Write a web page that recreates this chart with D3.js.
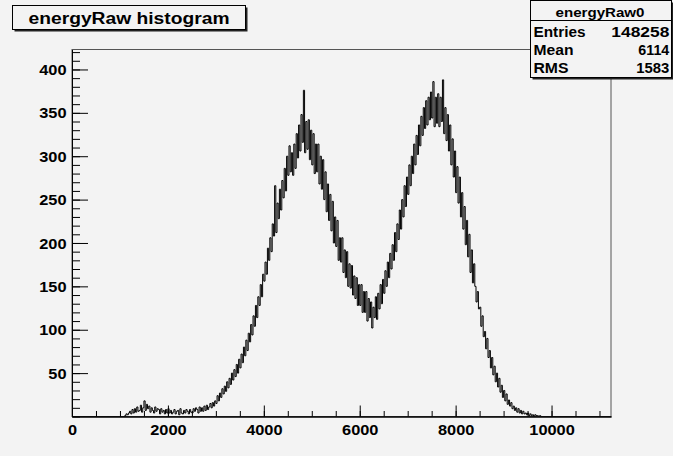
<!DOCTYPE html>
<html><head><meta charset="utf-8">
<script src="https://cdn.jsdelivr.net/npm/d3@7"></script>
<style>body{margin:0;background:#f3f3f3} svg{display:block}</style>
</head><body><svg id="c" width="673" height="456"></svg>
<script>
// ---- data ----
const binWidth = 25;
const xDomain = [0, 11240];
const yDomain = [0, 423];
const counts = [
// 0 - 1075
0,0,0,0,0,0,0,0,0,0,0,0,0,0,0,0,0,0,0,0,0,0,0,0,0,0,0,0,0,0,0,0,0,0,0,0,0,0,0,0,0,0,0,0,
// 1100 - 9775 (4 bins per 100)
1,3,2,4, 6,3,8,4, 9,5,11,6, 7,13,5,10, 18,7,14,9, 12,5,10,7, 4,11,6,9, 8,3,9,5, 7,3,8,4,
9,4,7,3, 5,8,3,6, 7,2,9,4, 3,7,4,8, 6,3,8,5, 4,9,6,10, 8,4,11,6, 10,6,12,7, 13,8,11,15, 10,16,12,18,
15,24,18,27, 22,32,26,35, 29,40,33,44, 37,50,42,54, 46,60,50,66, 56,72,62,80, 70,88,76,96,
86,106,94,116, 104,128,114,138, 128,152,138,164,
156,178,164,194, 180,206,190,222, 208,266,212,246, 228,262,238,272, 252,286,260,300,
278,312,282,304, 278,314,286,326, 298,336,306,348, 316,376,304,340, 308,342,296,330,
290,326,280,314, 282,314,268,300, 262,296,250,282, 236,268,226,256, 214,248,200,230,
196,226,180,206, 178,206,166,192, 160,190,150,176, 148,174,140,162, 136,160,128,152,
128,152,120,144, 120,144,110,136, 114,132,102,126, 114,138,112,142, 124,152,130,158,
142,168,150,178, 160,188,170,198, 180,212,190,222, 204,238,216,250, 230,266,242,276,
256,290,266,300, 280,314,290,324, 302,336,312,346, 324,356,332,364, 336,368,342,374,
344,386,334,368, 338,372,334,368, 340,388,326,356, 318,348,306,336, 290,320,276,306,
258,288,246,276, 230,258,216,242, 198,226,184,210, 166,192,154,176, 150,132,144,124,
126,104,116,92, 98,78,90,68, 76,56,68,48, 58,40,50,34, 44,28,36,22,
30,18,26,14, 19,12,16,9, 12,7,10,5, 9,4,7,3, 6,3,4,2, 4,1,3,1, 2,0,2,1, 1,0,1,0,
// 9800 - 11225
0,0,0,0,0,0,0,0,0,0,0,0,0,0,0,0,0,0,0,0,0,0,0,0,0,0,0,0,0,0,0,0,0,0,0,0,0,0,0,0,0,0,0,0,0,0,0,0,0,0,0,0,0,0,0,0,0,0
];
const xTickLabels = [0, 2000, 4000, 6000, 8000, 10000];
const yTickLabels = [50, 100, 150, 200, 250, 300, 350, 400];
const xMinorStep = 500;
const yMinorStep = 10;
const titleText = "energyRaw histogram";
const statTitle = "energyRaw0";
const statNames = ["Entries", "Mean", "RMS"];
const statValues = ["148258", "6114", "1583"];

// ---- layout ----
const L = 72, R = 611, T = 49.5, B = 416.5;
const svg = d3.select("#c");
const x = d3.scaleLinear().domain(xDomain).range([L, R]);
const y = d3.scaleLinear().domain(yDomain).range([B, T]);
const font = "'Liberation Sans', Arial, Helvetica, sans-serif";

svg.append("rect").attr("width", 673).attr("height", 456).attr("fill", "#f3f3f3");

// frame
svg.append("rect").attr("x", L).attr("y", T).attr("width", R - L).attr("height", B - T)
  .attr("fill", "none").attr("stroke", "#555").attr("stroke-width", 1);

// histogram
svg.append("clipPath").attr("id", "fr").append("rect")
  .attr("x", L).attr("y", T).attr("width", R - L).attr("height", B - T);
const pts = counts.map((c, i) => [i * binWidth, c]);
pts.push([counts.length * binWidth, counts[counts.length - 1]]);
const line = d3.line().x(d => x(d[0])).y(d => y(d[1])).curve(d3.curveStepAfter);
svg.append("path").attr("d", line(pts)).attr("fill", "none")
  .attr("stroke", "#000").attr("stroke-width", 1).attr("clip-path", "url(#fr)");

// axes
function styleAxis(g) {
  g.select(".domain").attr("stroke", "#000");
  g.selectAll(".tick line").attr("stroke", "#000");
}
const xMinorTicks = d3.range(xDomain[0], xDomain[1], xMinorStep);
const gxMinor = svg.append("g").attr("transform", `translate(0,${B})`)
  .call(d3.axisBottom(x).tickValues(xMinorTicks).tickSizeInner(-5.5).tickSizeOuter(0).tickFormat(""));
styleAxis(gxMinor);
const gx = svg.append("g").attr("transform", `translate(0,${B})`)
  .call(d3.axisBottom(x).tickValues(xTickLabels).tickSizeInner(-11).tickSizeOuter(0).tickPadding(18).tickFormat(d3.format("d")));
styleAxis(gx);
gx.selectAll("text").attr("font-family", font).attr("font-weight", "bold").attr("font-size", 14)
  .attr("fill", "#000").attr("dy", 0)
  .attr("textLength", d => String(d).length * 9.1).attr("lengthAdjust", "spacingAndGlyphs");

const yMinorTicks = d3.range(yDomain[0], yDomain[1], yMinorStep);
const gyMinor = svg.append("g").attr("transform", `translate(${L},0)`)
  .call(d3.axisLeft(y).tickValues(yMinorTicks).tickSizeInner(-8).tickSizeOuter(0).tickFormat(""));
styleAxis(gyMinor);
const gy = svg.append("g").attr("transform", `translate(${L},0)`)
  .call(d3.axisLeft(y).tickValues(yTickLabels).tickSizeInner(-16).tickSizeOuter(0).tickPadding(5).tickFormat(d3.format("d")));
styleAxis(gy);
gy.selectAll("text").attr("font-family", font).attr("font-weight", "bold").attr("font-size", 14)
  .attr("fill", "#000").attr("dy", "0.36em").attr("x", -5.5)
  .attr("textLength", d => String(d).length * 9.1).attr("lengthAdjust", "spacingAndGlyphs");

// title box
svg.append("rect").attr("x", 14.5).attr("y", 7.5).attr("width", 233).attr("height", 24).attr("fill", "#222");
svg.append("rect").attr("x", 12.5).attr("y", 5.5).attr("width", 233).attr("height", 24)
  .attr("fill", "#f3f3f3").attr("stroke", "#000").attr("stroke-width", 1);
svg.append("text").attr("x", 129).attr("y", 23.5).attr("text-anchor", "middle")
  .attr("font-family", font).attr("font-weight", "bold").attr("font-size", 16)
  .attr("textLength", 201).attr("lengthAdjust", "spacingAndGlyphs").text(titleText);

// stats box
const sx = 530.5, sy = 0.5, sw = 141, sh = 77;
svg.append("rect").attr("x", sx + 2).attr("y", sy + 2).attr("width", sw).attr("height", sh).attr("fill", "#222");
svg.append("rect").attr("x", sx).attr("y", sy).attr("width", sw).attr("height", sh)
  .attr("fill", "#f3f3f3").attr("stroke", "#000").attr("stroke-width", 1);
svg.append("line").attr("x1", sx).attr("x2", sx + sw).attr("y1", 20.5).attr("y2", 20.5).attr("stroke", "#000");
svg.append("text").attr("x", 600).attr("y", 16.5).attr("text-anchor", "middle")
  .attr("font-family", font).attr("font-weight", "bold").attr("font-size", 13)
  .attr("textLength", 89).attr("lengthAdjust", "spacingAndGlyphs").text(statTitle);
const rowY = [36.5, 55, 73.3];
const nameW = [52, 40, 35];
const valW = [58, 31, 33];
statNames.forEach((n, i) => {
  svg.append("text").attr("x", 533.5).attr("y", rowY[i])
    .attr("font-family", font).attr("font-weight", "bold").attr("font-size", 14)
    .attr("textLength", nameW[i]).attr("lengthAdjust", "spacingAndGlyphs").text(n);
  svg.append("text").attr("x", 669.3 - valW[i]).attr("y", rowY[i])
    .attr("font-family", font).attr("font-weight", "bold").attr("font-size", 14)
    .attr("textLength", valW[i]).attr("lengthAdjust", "spacingAndGlyphs").text(statValues[i]);
});
</script></body></html>
